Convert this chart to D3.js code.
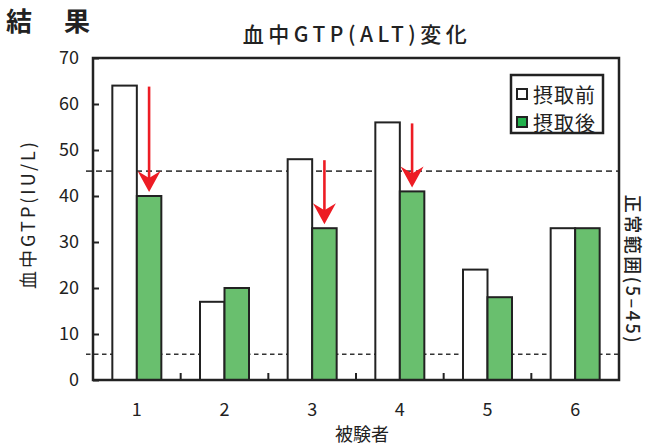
<!DOCTYPE html>
<html><head><meta charset="utf-8">
<script src="https://cdn.jsdelivr.net/npm/d3@7"></script>
<style>
body{margin:0;background:#fff;}
text{font-family:"Noto Sans CJK JP","Noto Sans",sans-serif;fill:#222;}
</style></head>
<body><svg id="c" width="646" height="445"></svg>
<script>
const subjects = ["1","2","3","4","5","6"];
const before = [64, 17, 48, 56, 24, 33];
const after  = [40, 20, 33, 41, 18, 33];
const seriesNames = ["摂取前","摂取後"];
const yTicks = [0,10,20,30,40,50,60,70];
const refLines = [45.4, 5.6];
const arrowSubjects = ["1","3","4"];

const W=646,H=445, L=93, R=619, T=58, B=380;
const svg = d3.select("#c");
const x = d3.scaleBand().domain(subjects).range([L,R]).padding(0);
const y = d3.scaleLinear().domain([0,70]).range([B,T]);
const bw = x.bandwidth();
const xs = d3.scaleBand().domain(["before","after"]).range([bw/2-24.5, bw/2+24.5]).padding(0);
const fills = {before:"#ffffff", after:"#69bf6e"};

// reference dashed lines
svg.append("line").attr("x1",86).attr("x2",R).attr("y1",y(refLines[0])).attr("y2",y(refLines[0]))
  .attr("stroke","#444").attr("stroke-width",1.8).attr("stroke-dasharray","6,4");
svg.append("line").attr("x1",86).attr("x2",R).attr("y1",y(refLines[1])).attr("y2",y(refLines[1]))
  .attr("stroke","#333").attr("stroke-width",1.3).attr("stroke-dasharray","4.5,3.5");

// bars
const data = subjects.map((s,i)=>({s, before:before[i], after:after[i]}));
const g = svg.append("g");
data.forEach(d=>{
  ["before","after"].forEach(k=>{
    g.append("rect").attr("x",x(d.s)+xs(k)).attr("y",y(d[k]))
      .attr("width",xs.bandwidth()).attr("height",y(0)-y(d[k]))
      .attr("fill",fills[k]).attr("stroke","#222").attr("stroke-width",2);
  });
});

// frame
svg.append("rect").attr("x",L).attr("y",T).attr("width",R-L).attr("height",B-T)
  .attr("fill","none").attr("stroke","#222").attr("stroke-width",2.5);

// y axis
const ya = d3.axisLeft(y).tickValues(yTicks).tickSizeInner(-6).tickSizeOuter(0).tickPadding(14);
const yg = svg.append("g").attr("transform",`translate(${L},0)`).call(ya);
yg.select(".domain").remove();
yg.selectAll(".tick line").attr("stroke","#222").attr("stroke-width",2);
yg.selectAll(".tick text").attr("font-size",18).attr("fill","#222")
  .style("font-family","'Noto Sans CJK JP',sans-serif");

// x axis ticks between groups
subjects.slice(1).forEach(s=>{
  svg.append("line").attr("x1",x(s)).attr("x2",x(s)).attr("y1",B).attr("y2",B-7)
    .attr("stroke","#222").attr("stroke-width",2);
});
subjects.forEach(s=>{
  svg.append("text").attr("x",x(s)+bw/2).attr("y",408).attr("text-anchor","middle")
    .attr("dominant-baseline","central").attr("font-size",18).text(s);
});

// arrows
const red="#ed1c24";
arrowSubjects.forEach(s=>{
  const i = subjects.indexOf(s);
  const cx = x(s)+xs("after")+xs.bandwidth()/2;
  const y0 = y(before[i])+1, tip = y(after[i])-4;
  svg.append("line").attr("x1",cx).attr("x2",cx).attr("y1",y0).attr("y2",tip-10)
    .attr("stroke",red).attr("stroke-width",2.6);
  svg.append("path").attr("d",`M${cx},${tip} L${cx-11.5},${tip-21} L${cx},${tip-14} L${cx+11.5},${tip-21} Z`)
    .attr("fill",red);
});

// legend
svg.append("rect").attr("x",511).attr("y",75).attr("width",92).attr("height",58)
  .attr("fill","#fff").attr("stroke","#222").attr("stroke-width",2.5);
const legFill=["#ffffff","#22b14c"];
seriesNames.forEach((n,i)=>{
  const cy = 94 + i*28;
  svg.append("rect").attr("x",517).attr("y",cy-5).attr("width",10).attr("height",10)
    .attr("fill",legFill[i]).attr("stroke","#222").attr("stroke-width",2);
  svg.append("text").attr("x",533).attr("y",cy).attr("dominant-baseline","central")
    .attr("font-size",20).attr("letter-spacing",1).attr("fill","#333").text(n);
});

// titles
svg.append("text").attr("x",6).attr("y",19).attr("dominant-baseline","central")
  .attr("font-size",26).attr("font-weight","bold").attr("letter-spacing",32).text("結果");
svg.append("text").attr("x",357).attr("y",33).attr("text-anchor","middle").attr("dominant-baseline","central")
  .attr("font-size",21).attr("font-weight",500).attr("letter-spacing",4.5).text("血中GTP(ALT)変化");
svg.append("text").attr("transform","translate(27,214) rotate(-90)").attr("text-anchor","middle")
  .attr("dominant-baseline","central").attr("font-size",18).attr("letter-spacing",3).text("血中GTP(IU/L)");
svg.append("text").attr("transform","translate(634,270) rotate(90)").attr("text-anchor","middle")
  .attr("dominant-baseline","central").attr("font-size",18).attr("font-weight",500).attr("letter-spacing",2.5).text("正常範囲(5–45)");
svg.append("text").attr("x",362).attr("y",433).attr("text-anchor","middle")
  .attr("dominant-baseline","central").attr("font-size",18).text("被験者");
</script></body></html>
